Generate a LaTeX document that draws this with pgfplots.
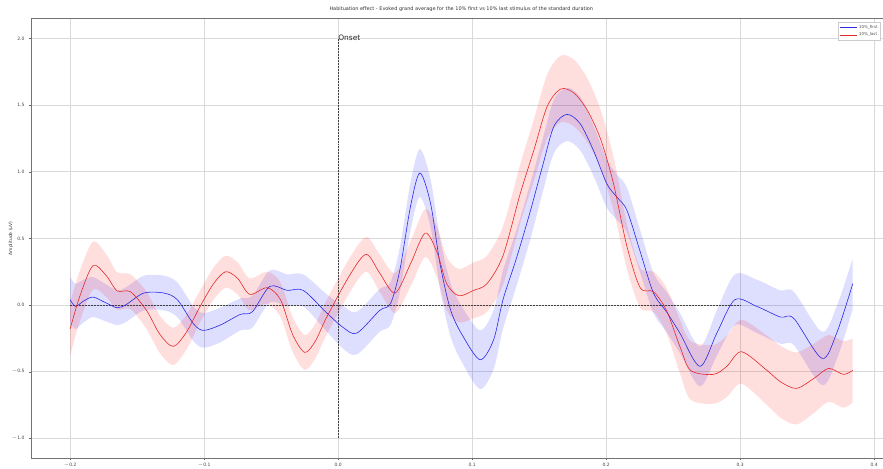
\documentclass[border=0pt]{standalone}
\usepackage{fontspec}
\setmainfont{DejaVu Sans}
\usepackage{pgfplots}
\usepgfplotslibrary{fillbetween}
\pgfplotsset{compat=1.18}
\usepackage{pgfplotstable}

\pgfplotstableread{
x y e
-0.200 -0.18 0.20
-0.193 0.06 0.19
-0.183 0.295 0.18
-0.173 0.22 0.16
-0.165 0.107 0.14
-0.155 0.10 0.13
-0.143 -0.04 0.14
-0.133 -0.22 0.14
-0.123 -0.31 0.14
-0.113 -0.20 0.13
-0.103 -0.01 0.12
-0.093 0.16 0.12
-0.084 0.25 0.12
-0.075 0.20 0.12
-0.066 0.08 0.12
-0.053 0.13 0.12
-0.043 0.04 0.13
-0.034 -0.22 0.13
-0.025 -0.355 0.13
-0.017 -0.27 0.13
-0.0085 -0.09 0.13
0.009 0.23 0.13
0.021 0.38 0.13
0.031 0.24 0.14
0.0425 0.09 0.15
0.054 0.31 0.17
0.065 0.54 0.18
0.074 0.39 0.19
0.081 0.16 0.20
0.090 0.07 0.20
0.101 0.11 0.21
0.111 0.16 0.21
0.123 0.37 0.22
0.136 0.84 0.22
0.146 1.16 0.23
0.156 1.49 0.24
0.166 1.62 0.25
0.176 1.59 0.25
0.186 1.46 0.24
0.196 1.24 0.22
0.2055 0.91 0.20
0.2155 0.44 0.17
0.2254 0.13 0.15
0.2353 0.10 0.15
0.245 -0.04 0.17
0.255 -0.31 0.20
0.263 -0.49 0.22
0.280 -0.52 0.22
0.290 -0.46 0.23
0.301 -0.35 0.24
0.320 -0.49 0.26
0.330 -0.575 0.27
0.342 -0.625 0.27
0.355 -0.55 0.26
0.366 -0.475 0.25
0.377 -0.52 0.25
0.384 -0.49 0.24
}\reddata

\pgfplotstableread{
x y e
-0.200 0.04 0.17
-0.196 -0.01 0.17
-0.190 0.03 0.16
-0.183 0.06 0.15
-0.174 0.02 0.14
-0.165 -0.02 0.13
-0.158 0.005 0.13
-0.145 0.09 0.13
-0.130 0.09 0.13
-0.120 0.04 0.13
-0.108 -0.14 0.13
-0.1005 -0.19 0.13
-0.088 -0.15 0.13
-0.073 -0.07 0.12
-0.064 -0.05 0.12
-0.051 0.14 0.12
-0.038 0.11 0.12
-0.026 0.11 0.12
-0.0084 -0.06 0.14
0.004 -0.17 0.16
0.014 -0.21 0.16
0.031 -0.04 0.16
0.039 0.01 0.16
0.046 0.26 0.17
0.054 0.74 0.18
0.061 0.99 0.18
0.069 0.76 0.18
0.076 0.31 0.19
0.084 -0.04 0.20
0.0935 -0.24 0.21
0.106 -0.41 0.22
0.116 -0.26 0.22
0.123 0.04 0.22
0.133 0.35 0.21
0.143 0.69 0.21
0.153 1.06 0.20
0.161 1.34 0.20
0.1707 1.43 0.20
0.1806 1.36 0.20
0.1905 1.16 0.19
0.2005 0.91 0.18
0.208 0.81 0.17
0.2155 0.71 0.17
0.2254 0.40 0.16
0.2353 0.09 0.15
0.245 -0.05 0.15
0.255 -0.21 0.15
0.270 -0.46 0.15
0.2826 -0.21 0.17
0.296 0.04 0.19
0.3124 -0.01 0.20
0.330 -0.09 0.20
0.340 -0.10 0.20
0.361 -0.40 0.20
0.372 -0.21 0.20
0.384 0.16 0.19
}\bluedata

\begin{document}
\begin{tikzpicture}
\begin{axis}[
  name=ax,
  scale only axis,
  width=860.6bp, height=440bp,
  xmin=-0.2292, xmax=0.413,
  ymin=-1.15, ymax=2.15,
  xtick={-0.2,-0.1,0,0.1,0.2,0.3,0.4},
  ytick={-1,-0.5,0,0.5,1,1.5,2},
  xticklabels={$-$0.2,$-$0.1,0.0,0.1,0.2,0.3,0.4},
  yticklabels={$-$1.0,$-$0.5,0.0,0.5,1.0,1.5,2.0},
  tick label style={font=\fontsize{4.5}{5}\selectfont, text=black!75},
  xticklabel style={yshift=1pt},
  yticklabel style={xshift=-1pt},
  tick align=outside,
  tick style={black!60, thin},
  major tick length=2pt,
  xtick pos=bottom, ytick pos=left,
  grid=major,
  grid style={black!15, line width=0.5pt},
  axis line style={black!55, line width=0.6pt},
  title={Habituation effect - Evoked grand average for the 10\% first vs 10\% last stimulus of the standard duration},
  title style={font=\fontsize{5}{6}\selectfont, text=black!80, yshift=-3pt},
  ylabel={Amplitude (uV)},
  ylabel style={font=\fontsize{4.5}{5}\selectfont, text=black!80, yshift=-8pt},
  legend style={at={(0.9875,0.992)}, anchor=north east, font=\fontsize{4}{4.5}\selectfont, draw=black!20, inner sep=1pt, row sep=-1pt, text=black!70},
  legend cell align=left,
  legend image post style={line width=0.6pt},
]
% bands
\addplot[draw=none, name path=bu, smooth, forget plot] table[x=x, y expr=\thisrow{y}+\thisrow{e}] {\bluedata};
\addplot[draw=none, name path=bl, smooth, forget plot] table[x=x, y expr=\thisrow{y}-\thisrow{e}] {\bluedata};
\addplot[blue, fill opacity=0.13, draw=none, forget plot] fill between[of=bu and bl];
\addplot[draw=none, name path=ru, smooth, forget plot] table[x=x, y expr=\thisrow{y}+\thisrow{e}] {\reddata};
\addplot[draw=none, name path=rl, smooth, forget plot] table[x=x, y expr=\thisrow{y}-\thisrow{e}] {\reddata};
\addplot[red, fill opacity=0.13, draw=none, forget plot] fill between[of=ru and rl];
% reference lines
\addplot[black!75, dash pattern=on 2pt off 1pt, line width=0.6pt, forget plot] coordinates {(-0.2,0) (0.3,0)};
\addplot[black!75, dash pattern=on 2pt off 1pt, line width=0.6pt, forget plot] coordinates {(0,-1) (0,2)};
% lines
\addplot[color={rgb,255:red,40;green,40;blue,230}, line width=0.6pt, smooth, no marks] table[x=x, y=y] {\bluedata};
\addlegendentry{10\%\_first}
\addplot[color={rgb,255:red,230;green,40;blue,40}, line width=0.6pt, smooth, no marks] table[x=x, y=y] {\reddata};
\addlegendentry{10\%\_last}
\node[anchor=base west, inner sep=0, font=\fontsize{7.5}{8}\selectfont, text=black!85] at (axis cs:0,1.985) {Onset};
\end{axis}
\pgfresetboundingbox
\path[use as bounding box] ([xshift=-31bp,yshift=-9.7bp]ax.south west) rectangle ([xshift=852bp,yshift=18.4bp]ax.north west);
\end{tikzpicture}
\end{document}
